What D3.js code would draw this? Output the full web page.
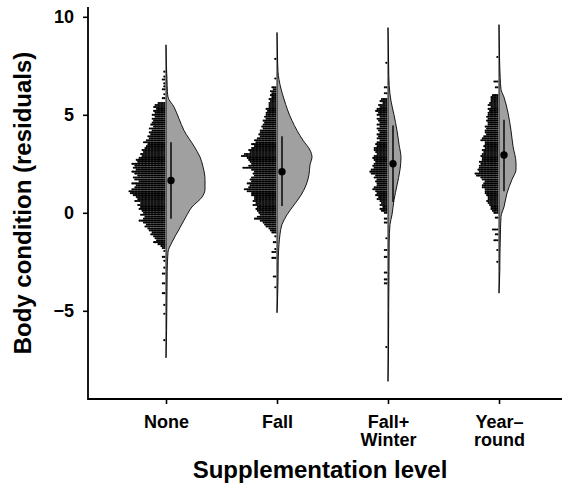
<!DOCTYPE html>
<html>
<head>
<meta charset="utf-8">
<title>Body condition by supplementation level</title>
<style>
  body { margin: 0; background: white; }
  text { font-family: "Liberation Sans", Arial, sans-serif; font-weight: bold; fill: black; }
</style>
</head>
<body>
<svg id="chart" width="562" height="486"></svg>

<script src="https://d3js.org/d3.v7.min.js"></script>
<script>

// groups and their tick labels (two lines where the label wraps)
var groups = ["None", "Fall", "Fall+Winter", "Year-round"];
var tickLines = [["None"], ["Fall"], ["Fall+", "Winter"], ["Year\u2013", "round"]];
var yTicks = [-5, 0, 5, 10];

// mean and +/- 1 SD per group
var means  = [1.65, 2.1, 2.5, 2.95];
var sdLow  = [-0.3, 0.35, 0.55, 1.1];
var sdHigh = [3.6, 3.9, 4.45, 4.75];

// dot histogram: count of dots per 0.1 bin, starting at dotStart and going down
var dotStart = [5.6, 6.4, 5.8, 6.0];
var noneCounts = [5,7,8,6,8,7,9,7,9,8, 9,10,8,11,9,11,10,12,11,13,
  15,12,13,14,16,15,17,16,18,20, 19,23,21,22,20,23,21,19,22,21,
  18,23,20,21,23,25,24,22,20,19, 21,17,19,17,18,16,15,17,14,15,
  18,15,13,14,12,11,9,10,8,7, 6,8,5,3,2];
var fallCounts = [3,2,4,3,4,3,5,4,5,5, 5,7,6,7,7,8,7,9,8,9,
  10,9,11,11,12,11,13,15,14,17, 15,17,19,18,22,24,20,19,18,17,
  19,23,17,15,16,15,17,18,17,20, 18,19,22,20,17,17,15,15,16,14,
  16,13,14,13,12,11,13,15,11,9, 8,7,5,4,3];
var fwCounts = [4,5,3,6,5,7,8,6,7,5, 7,6,5,7,5,7,6,5,7,6,
  7,5,7,8,7,9,9,8,7,9, 10,9,8,9,10,9,11,12,11,8,
  9,7,8,7,7,9,10,8,7,8, 6,7,5,4,5,3,5,4,2];
var yrCounts = [4,5,5,5,6,7,5,7,6,7, 7,8,7,8,7,7,9,8,9,9,
  8,10,11,12,9,9,10,9,11,10, 11,12,11,11,13,12,13,13,14,13,
  16,15,12,11,9,10,11,11,9,9, 9,8,7,7,8,7,6,5,5,4, 3];

// scattered dots in the tails: [value, count]
var noneTail = [[7.2,1],[6.95,1],[6.8,2],[6.6,1],[6.45,1],[6.3,2],[6.05,1],[5.85,2],
  [-1.95,1],[-2.25,2],[-2.45,1],[-2.8,1],[-3.1,2],[-3.6,2],[-4.1,2],[-4.7,1],[-5.15,1],[-6.5,1]];
var fallTail = [[7.85,1],[6.85,1],[-1.2,1],[-1.5,2],[-1.85,1],[-2.0,3],[-2.3,3],[-3.25,2],[-3.8,1]];
var fwTail = [[7.65,1],[6.4,2],[6.1,2],[-0.3,2],[-0.5,2],[-1.3,1],[-1.9,2],[-2.25,2],
  [-3.05,2],[-3.4,2],[-3.6,2],[-6.85,1]];
var yrTail = [[7.95,1],[6.7,3],[6.4,2],[-0.25,2],[-0.85,4],[-1.1,2],[-1.4,3],[-1.9,1],[-2.5,1]];

// half violin outlines: [value, density]
var noneDensity = [[8.57,0],[7.5,0.004],[6.8,0.01],[6.2,0.014],[5.9,0.02],[5.4,0.08],[4.8,0.13],
  [4.2,0.18],[3.4,0.28],[2.85,0.34],[2.35,0.37],[1.7,0.39],[1.2,0.39],[0.8,0.36],[0.3,0.26],
  [-0.2,0.2],[-0.85,0.13],[-1.5,0.06],[-2.0,0.02],[-3,0.012],[-4,0.01],[-5,0.008],[-6,0.006],[-7.4,0]];
var fallDensity = [[9.2,0],[8,0.005],[7.2,0.01],[6.8,0.02],[5.8,0.07],[4.7,0.15],[3.7,0.26],
  [3.2,0.33],[2.85,0.35],[2.45,0.33],[1.95,0.32],[1.4,0.29],[0.9,0.24],[0.4,0.17],[-0.1,0.1],
  [-0.6,0.05],[-1.1,0.03],[-1.6,0.02],[-2.5,0.012],[-3.5,0.01],[-4.3,0.006],[-5.1,0]];
var fwDensity = [[9.45,0],[8,0.005],[7,0.008],[6.5,0.012],[5.7,0.03],[5.0,0.06],[4.2,0.09],
  [3.5,0.11],[2.8,0.13],[2.2,0.12],[1.4,0.09],[0.65,0.06],[-0.1,0.04],[-0.6,0.02],[-1.5,0.012],
  [-3,0.01],[-5,0.007],[-7,0.005],[-8.6,0]];
var yrDensity = [[9.6,0],[8,0.005],[6.9,0.012],[6.3,0.02],[5.9,0.05],[5.1,0.09],[4.2,0.12],
  [3.4,0.14],[2.55,0.17],[2.2,0.17],[1.7,0.13],[1.0,0.08],[0.3,0.05],[-0.2,0.02],[-0.85,0.015],
  [-2,0.01],[-3,0.008],[-4.1,0]];

var allCounts = [noneCounts, fallCounts, fwCounts, yrCounts];
var allTails = [noneTail, fallTail, fwTail, yrTail];
var allDensity = [noneDensity, fallDensity, fwDensity, yrDensity];

var svg = d3.select("#chart");
var plotLeft = 88, plotRight = 562, plotTop = 7, plotBottom = 399;

var x = d3.scalePoint().domain(groups).range([166, 499]);
var y = d3.scaleLinear().domain([-9.5, 10.5]).range([plotBottom, plotTop]);
var w = d3.scaleLinear().domain([0, 0.4]).range([0, 40]);

var dotStep = 1.45, dotR = 1.08;

groups.forEach(function(g, i) {
  var cx = x(g);
  var rows = allCounts[i].map(function(c, j) {
    return [dotStart[i] - j * 0.1, c];
  }).concat(allTails[i]);

  var dots = [];
  rows.forEach(function(r) {
    for (var k = 0; k < r[1]; k++) dots.push({v: r[0], k: k});
  });

  var grp = svg.append("g").attr("class", "group");

  grp.selectAll("circle.dot")
    .data(dots)
    .enter()
    .append("circle")
    .attr("class", "dot")
    .attr("cx", d => cx - 1.7 - d.k * dotStep)
    .attr("cy", d => y(d.v))
    .attr("r", dotR)
    .attr("fill", "black");

  var area = d3.area()
    .y(d => y(d[0]))
    .x0(cx)
    .x1(d => cx + w(d[1]))
    .curve(d3.curveMonotoneY);

  grp.append("path")
    .datum(allDensity[i])
    .attr("d", area)
    .attr("fill", "#a0a0a0")
    .attr("stroke", "black")
    .attr("stroke-width", 0.9);

  grp.append("line")
    .attr("x1", cx + 5).attr("x2", cx + 5)
    .attr("y1", y(sdLow[i])).attr("y2", y(sdHigh[i]))
    .attr("stroke", "#111")
    .attr("stroke-width", 1.6);

  grp.append("circle")
    .attr("cx", cx + 5)
    .attr("cy", y(means[i]))
    .attr("r", 3.7)
    .attr("fill", "black");
});

// y axis
var yAxis = d3.axisLeft(y).tickValues(yTicks).tickSize(5).tickPadding(9).tickSizeOuter(0);
var gy = svg.append("g").attr("transform", "translate(" + plotLeft + ",0)").call(yAxis);
gy.select(".domain").remove();
gy.selectAll(".tick line").attr("stroke", "black").attr("stroke-width", 1.6);
gy.selectAll(".tick text").style("font-size", "18px").attr("fill", "black");

// x axis
var xAxis = d3.axisBottom(x).tickSize(5).tickSizeOuter(0).tickFormat("");
var gx = svg.append("g").attr("transform", "translate(0," + plotBottom + ")").call(xAxis);
gx.select(".domain").remove();
gx.selectAll(".tick line").attr("stroke", "black").attr("stroke-width", 1.6);

gx.selectAll(".tick")
  .append("text")
  .attr("text-anchor", "middle")
  .style("font-size", "18px")
  .selectAll("tspan")
  .data(d => tickLines[groups.indexOf(d)])
  .enter()
  .append("tspan")
  .attr("x", 0)
  .attr("y", (d, j) => 29 + j * 18)
  .text(d => d);

// axis lines
svg.append("path")
  .attr("d", "M" + plotLeft + "," + plotTop + "V" + plotBottom + "H" + plotRight)
  .attr("fill", "none")
  .attr("stroke", "black")
  .attr("stroke-width", 1.8);

// titles
svg.append("text")
  .attr("x", 320)
  .attr("y", 478)
  .attr("text-anchor", "middle")
  .style("font-size", "24px")
  .text("Supplementation level");

svg.append("text")
  .attr("transform", "translate(31," + ((plotTop + plotBottom) / 2) + ") rotate(-90)")
  .attr("text-anchor", "middle")
  .style("font-size", "24px")
  .text("Body condition (residuals)");

</script>
</body>
</html>
